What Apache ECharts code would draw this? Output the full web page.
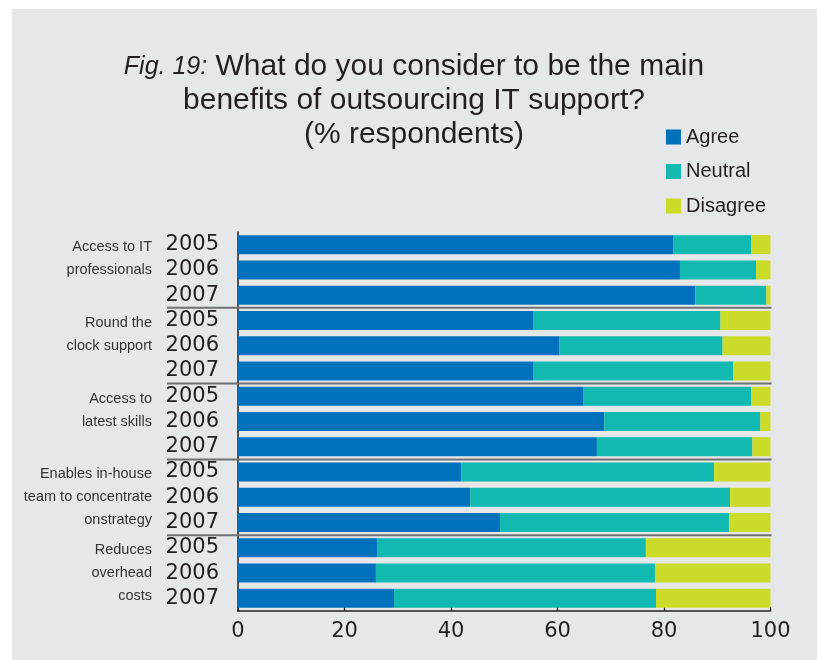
<!DOCTYPE html>
<html>
<head>
<meta charset="utf-8">
<script src="https://cdn.jsdelivr.net/npm/echarts@6/dist/echarts.min.js"></script>
<style>
  html, body { margin: 0; padding: 0; background: #ffffff; }
  #panel { position: absolute; left: 12px; top: 9px; right: 0; bottom: 0; background: #e6e7e8; }
  #chart { position: absolute; left: 0; top: 0; width: 817px; height: 660px; }
</style>
</head>
<body>
<div id="panel"></div>
<div id="chart"></div>
<script>
// Survey: main benefits of outsourcing IT support, % respondents per year
const groups = [
  'Access to IT\nprofessionals',
  'Round the\nclock support',
  'Access to\nlatest skills',
  'Enables in-house\nteam to concentrate\nonstrategy',
  'Reduces\noverhead\ncosts'
];
const years = ['2005', '2006', '2007'];
const rowYears = [
  '2005', '2006', '2007',
  '2005', '2006', '2007',
  '2005', '2006', '2007',
  '2005', '2006', '2007',
  '2005', '2006', '2007'
];
const agree = [81.7, 83.0, 85.9, 55.4, 60.3, 55.4, 64.8, 68.8, 67.4, 41.9, 43.6, 49.2, 26.1, 25.9, 29.3];
const neutral = [14.7, 14.3, 13.3, 35.2, 30.7, 37.6, 31.6, 29.3, 29.2, 47.5, 48.8, 43.0, 50.5, 52.4, 49.2];
const disagree = [3.6, 2.7, 0.8, 9.4, 9.0, 7.0, 3.6, 1.9, 3.4, 10.6, 7.6, 7.8, 23.4, 21.7, 21.5];
const xTicks = [0, 20, 40, 60, 80, 100];

const INK = '#231f20';
const DIGITS = 'DejaVu Sans';
const TEXT = 'Liberation Sans, Arial, sans-serif';

const chart = echarts.init(document.getElementById('chart'), null, { renderer: 'canvas' });

const option = {
  backgroundColor: 'transparent',
  animation: false,
  title: {
    text: '{i|Fig. 19:} What do you consider to be the main\nbenefits of outsourcing IT support?\n(% respondents)',
    left: 409,
    top: 45,
    textAlign: 'center',
    textStyle: {
      fontFamily: TEXT,
      fontSize: 30,
      fontWeight: 'normal',
      color: INK,
      lineHeight: 34,
      align: 'center',
      rich: {
        i: { fontFamily: TEXT, fontSize: 25, fontStyle: 'italic', color: INK, lineHeight: 34 }
      }
    }
  },
  legend: {
    orient: 'vertical',
    left: 661,
    top: 122,
    itemWidth: 15,
    itemHeight: 15,
    itemGap: 14.5,
    icon: 'rect',
    textStyle: { fontFamily: TEXT, fontSize: 20, color: INK, padding: [0, 0, 0, 0] },
    data: ['Agree', 'Neutral', 'Disagree']
  },
  grid: { left: 238, right: 46.5, top: 232, bottom: 49, containLabel: false },
  xAxis: {
    type: 'value',
    min: xTicks[0],
    max: xTicks[xTicks.length - 1],
    interval: xTicks[1] - xTicks[0],
    axisLine: { show: true, lineStyle: { color: INK, width: 1.5 } },
    axisTick: { show: true, inside: true, length: 4, lineStyle: { color: INK, width: 1.2 } },
    splitLine: { show: false },
    axisLabel: { fontFamily: DIGITS, fontSize: 21, color: INK, margin: 10 }
  },
  yAxis: [
    {
      type: 'category',
      inverse: true,
      data: rowYears,
      axisLine: { show: true, lineStyle: { color: INK, width: 1.5 } },
      axisTick: { show: false },
      axisLabel: { interval: 0, fontFamily: DIGITS, fontSize: 21, color: INK, margin: 19 }
    },
    {
      type: 'category',
      inverse: true,
      position: 'left',
      data: groups,
      axisLine: { show: false },
      axisTick: { show: false },
      splitLine: { show: false },
      axisLabel: {
        interval: 0,
        fontFamily: TEXT,
        fontSize: 14.5,
        color: '#333333',
        lineHeight: 23,
        margin: 86,
        align: 'right',
        // two-line labels sit in the top of their block, like the three-line ones
        formatter: function (v) {
          const n = v.split('\n').length;
          return n < 3 ? v + '\n\u00a0' : v;
        }
      }
    }
  ],
  series: [
    { name: 'Agree', type: 'bar', stack: 'total', yAxisIndex: 0, barWidth: 19, data: agree,
      itemStyle: { color: '#0072bc' } },
    { name: 'Neutral', type: 'bar', stack: 'total', yAxisIndex: 0, barWidth: 19, data: neutral,
      itemStyle: { color: '#12b9b0' } },
    { name: 'Disagree', type: 'bar', stack: 'total', yAxisIndex: 0, barWidth: 19, data: disagree,
      itemStyle: { color: '#cadb2a' } }
  ]
};

chart.setOption(option);

// Rules separating the question groups, placed between the rows on the category scale
function drawSeparators() {
  const perGroup = years.length;
  const x0 = chart.convertToPixel({ xAxisIndex: 0 }, xTicks[0]);
  const x1 = chart.convertToPixel({ xAxisIndex: 0 }, xTicks[xTicks.length - 1]);
  const lines = [];
  for (let g = 1; g < groups.length; g++) {
    const a = chart.convertToPixel({ yAxisIndex: 0 }, g * perGroup - 1);
    const b = chart.convertToPixel({ yAxisIndex: 0 }, g * perGroup);
    const y = (a + b) / 2;
    lines.push({
      type: 'line',
      z: 10,
      shape: { x1: x0 - 71, y1: y, x2: x1 + 1, y2: y },
      style: { stroke: '#6f7073', lineWidth: 2 }
    });
  }
  chart.setOption({ graphic: lines });
}
drawSeparators();
</script>
</body>
</html>
